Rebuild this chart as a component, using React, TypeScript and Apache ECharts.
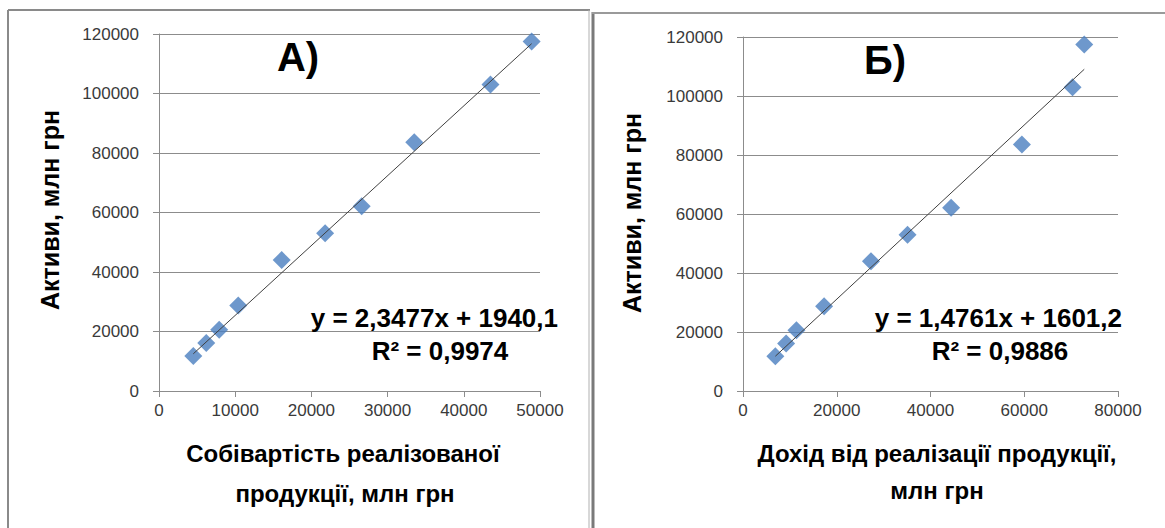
import React, { useEffect, useRef } from "react";
import * as echarts from "echarts";

// Data
const costA = [4500, 6200, 7900, 10400, 16100, 21800, 26600, 33500, 43500, 48900];
const revenueB = [6900, 9200, 11400, 17300, 27300, 35100, 44400, 59500, 70300, 72800];
const assets = [11800, 16100, 20600, 28700, 44000, 53000, 62100, 83600, 103000, 117500];

const trendA = { slope: 2.3477, intercept: 1940.1 };
const trendB = { slope: 1.4761, intercept: 1601.2 };

const xTicksA = { min: 0, max: 50000, interval: 10000 };
const xTicksB = { min: 0, max: 80000, interval: 20000 };
const yTicks = { min: 0, max: 120000, interval: 20000 };

const eqA = ["y = 2,3477x + 1940,1", "R² = 0,9974"];
const eqB = ["y = 1,4761x + 1601,2", "R² = 0,9886"];

const yTitle = "Активи, млн грн";
const xTitleA = ["Собівартість реалізованої", "продукції, млн грн"];
const xTitleB = ["Дохід від реалізації продукції,", "млн грн"];
const panelA = "А)";
const panelB = "Б)";

const FONT = "'Liberation Sans', Arial, sans-serif";
const GRID_COLOR = "#8c8c8c";
const MARKER = "#4a7ebf";

function trendData(xs: number[], t: { slope: number; intercept: number }) {
  const lo = Math.min(...xs);
  const hi = Math.max(...xs);
  return [
    [lo, t.slope * lo + t.intercept],
    [hi, t.slope * hi + t.intercept],
  ];
}

export default function App() {
  const ref = useRef<HTMLDivElement>(null);

  useEffect(() => {
    if (!ref.current) return;
    const chart = echarts.init(ref.current, undefined, { renderer: "svg" });

    const axisLine = { show: true, lineStyle: { color: GRID_COLOR, width: 1 } };
    const axisTick = { show: true, inside: false, length: 6, lineStyle: { color: GRID_COLOR } };
    const axisLabel = {
      color: "#3a3a3a",
      fontSize: 17,
      fontFamily: FONT,
      formatter: (v: number) => String(v),
    };

    const xAxis = (i: number, t: { min: number; max: number; interval: number }) => ({
      type: "value",
      gridIndex: i,
      min: t.min,
      max: t.max,
      interval: t.interval,
      axisLine,
      axisTick,
      splitLine: { show: false },
      axisLabel: { ...axisLabel, margin: 11 },
    });
    const yAxis = (i: number) => ({
      type: "value",
      gridIndex: i,
      min: yTicks.min,
      max: yTicks.max,
      interval: yTicks.interval,
      axisLine,
      axisTick,
      splitLine: { show: true, lineStyle: { color: GRID_COLOR, width: 1 } },
      axisLabel: { ...axisLabel, margin: 20 },
    });

    const scatter = (i: number, xs: number[]) => ({
      type: "scatter",
      xAxisIndex: i,
      yAxisIndex: i,
      symbol: "diamond",
      symbolSize: 18,
      itemStyle: { color: MARKER },
      data: xs.map((x, k) => [x, assets[k]]),
      z: 2,
    });
    const trend = (i: number, xs: number[], t: { slope: number; intercept: number }) => ({
      type: "line",
      xAxisIndex: i,
      yAxisIndex: i,
      symbol: "none",
      lineStyle: { color: "#404040", width: 1 },
      data: trendData(xs, t),
      z: 3,
    });

    const txt = (
      x: number,
      y: number,
      text: string,
      size: number,
      align: string,
      rotation = 0
    ) => ({
      type: "text",
      x,
      y,
      rotation,
      style: {
        text,
        fontFamily: FONT,
        fontWeight: "bold",
        fontSize: size,
        fill: "#000",
        align,
        verticalAlign: "middle",
      },
      z: 10,
    });

    chart.setOption({
      animation: false,
      backgroundColor: "#ffffff",
      grid: [
        { left: 159, top: 34, width: 381, height: 357 },
        { left: 743, top: 37, width: 375, height: 354 },
      ],
      xAxis: [xAxis(0, xTicksA), xAxis(1, xTicksB)],
      yAxis: [yAxis(0), yAxis(1)],
      series: [
        scatter(0, costA),
        trend(0, costA, trendA),
        scatter(1, revenueB),
        trend(1, revenueB, trendB),
      ],
      graphic: [
        // panel borders
        { type: "line", shape: { x1: 8, y1: 10, x2: 590, y2: 10 }, style: { stroke: "#8a8a8a", lineWidth: 2 } },
        { type: "line", shape: { x1: 8, y1: 10, x2: 8, y2: 528 }, style: { stroke: "#8a8a8a", lineWidth: 2 } },
        { type: "line", shape: { x1: 589, y1: 10, x2: 589, y2: 528 }, style: { stroke: "#b0b0b0", lineWidth: 1 } },
        { type: "line", shape: { x1: 593, y1: 12, x2: 593, y2: 528 }, style: { stroke: "#7a7a7a", lineWidth: 3 } },
        { type: "line", shape: { x1: 592, y1: 13, x2: 1165, y2: 13 }, style: { stroke: "#9a9a9a", lineWidth: 2 } },
        // panel letters
        txt(298, 57, panelA, 40, "center"),
        txt(885, 60, panelB, 40, "center"),
        // y titles
        txt(50, 210, yTitle, 25, "center", Math.PI / 2),
        txt(632, 213, yTitle, 25, "center", Math.PI / 2),
        // x titles
        txt(343, 453, xTitleA[0], 24, "center"),
        txt(345, 493, xTitleA[1], 24, "center"),
        txt(937, 453, xTitleB[0], 24, "center"),
        txt(937, 490, xTitleB[1], 24, "center"),
        // equations
        txt(558, 318, eqA[0], 26, "right"),
        txt(440, 351, eqA[1], 26, "center"),
        txt(1122, 318, eqB[0], 26, "right"),
        txt(1000, 351, eqB[1], 26, "center"),
      ],
    });

    return () => chart.dispose();
  }, []);

  return (
    <div
      ref={ref}
      style={{ position: "absolute", left: 0, top: 0, width: 1165, height: 528 }}
    />
  );
}
